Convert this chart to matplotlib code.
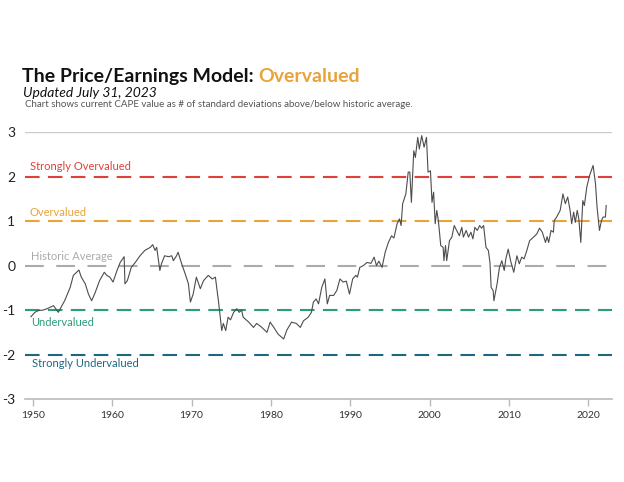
import matplotlib
matplotlib.use("Agg")
import matplotlib.pyplot as plt

# CAPE, standard deviations from historic average
years = [
    1949.75, 1950.25, 1950.7, 1951.3, 1951.9, 1952.6, 1953.2, 1954.0, 1954.7, 1955.1,
    1955.5, 1955.8, 1956.1, 1956.6, 1957.0, 1957.4, 1957.8, 1958.4, 1959.0, 1959.3,
    1959.7, 1960.1, 1960.6, 1961.0, 1961.5, 1961.6, 1961.9, 1962.4, 1962.9, 1963.5,
    1964.1, 1964.8, 1965.1, 1965.4, 1965.6, 1966.0, 1966.2, 1966.6, 1967.1, 1967.5,
    1967.7, 1968.1, 1968.3, 1968.75, 1969.2, 1969.6, 1969.85, 1970.2, 1970.6, 1971.1,
    1971.5, 1972.1, 1972.6, 1973.0, 1973.4, 1973.8, 1974.0, 1974.3, 1974.6, 1974.9,
    1975.3, 1975.7, 1976.0, 1976.3, 1976.5, 1977.2, 1977.8, 1978.2, 1978.8, 1979.5,
    1979.9, 1980.4, 1980.9, 1981.6, 1982.0, 1982.6, 1983.2, 1983.7, 1984.1, 1984.7,
    1985.1, 1985.35, 1985.7, 1986.0, 1986.4, 1986.8, 1987.1, 1987.4, 1987.9, 1988.3,
    1988.7, 1989.1, 1989.5, 1989.9, 1990.3, 1990.7, 1990.9, 1991.2, 1991.65, 1992.1,
    1992.6, 1993.0, 1993.3, 1993.6, 1994.0, 1994.4, 1994.8, 1995.2, 1995.5, 1995.9,
    1996.2, 1996.4, 1996.6, 1997.0, 1997.3, 1997.5, 1997.7, 1998.0, 1998.2, 1998.5,
    1998.7, 1999.0, 1999.3, 1999.6, 1999.8, 2000.1, 2000.3, 2000.5, 2000.7, 2000.9,
    2001.1, 2001.4, 2001.7, 2001.8, 2002.0, 2002.15, 2002.5, 2002.8, 2003.1, 2003.4,
    2003.75, 2004.05, 2004.25, 2004.6, 2004.9, 2005.2, 2005.45, 2005.7, 2006.0, 2006.3,
    2006.55, 2006.8, 2007.1, 2007.4, 2007.6, 2007.75, 2008.0, 2008.1, 2008.5, 2008.8,
    2009.1, 2009.4, 2009.6, 2009.9, 2010.2, 2010.6, 2011.0, 2011.3, 2011.6, 2011.9,
    2012.25, 2012.6, 2013.1, 2013.5, 2013.85, 2014.2, 2014.6, 2014.8, 2015.0, 2015.3,
    2015.6, 2015.7, 2016.0, 2016.45, 2016.8, 2017.1, 2017.4, 2017.7, 2017.9, 2018.15,
    2018.35, 2018.6, 2018.8, 2019.05, 2019.3, 2019.5, 2019.8, 2020.15, 2020.6, 2020.9,
    2021.1, 2021.4, 2021.65, 2021.85, 2022.15, 2022.25,
]
cape_sd = [
    -1.15, -1.05, -1.01, -1.00, -0.96, -0.90, -1.05, -0.79, -0.49, -0.22,
    -0.15, -0.10, -0.26, -0.41, -0.64, -0.79, -0.63, -0.34, -0.15, -0.22,
    -0.26, -0.37, -0.11, 0.07, 0.20, -0.41, -0.34, -0.04, 0.07, 0.22,
    0.34, 0.41, 0.47, 0.34, 0.41, -0.11, 0.04, 0.22, 0.20, 0.22,
    0.11, 0.22, 0.30, 0.04, -0.19, -0.41, -0.82, -0.64, -0.26, -0.52,
    -0.34, -0.22, -0.30, -0.26, -0.82, -1.46, -1.30, -1.46, -1.16, -1.22,
    -1.05, -0.97, -1.05, -1.00, -1.16, -1.27, -1.39, -1.30, -1.38, -1.50,
    -1.27, -1.40, -1.54, -1.65, -1.45, -1.27, -1.30, -1.39, -1.24, -1.16,
    -1.05, -0.82, -0.75, -0.86, -0.49, -0.30, -0.86, -0.67, -0.67, -0.56,
    -0.30, -0.37, -0.35, -0.64, -0.30, -0.22, -0.26, -0.04, 0.00, 0.07,
    0.05, 0.19, 0.00, 0.10, -0.04, 0.30, 0.52, 0.67, 0.62, 0.94,
    1.05, 0.90, 1.39, 1.61, 2.10, 2.10, 1.42, 2.58, 2.43, 2.88,
    2.62, 2.92, 2.66, 2.88, 2.10, 2.13, 1.42, 1.65, 0.94, 1.24,
    1.01, 0.45, 0.41, 0.11, 0.45, 0.11, 0.56, 0.64, 0.90, 0.79,
    0.67, 0.86, 0.64, 0.79, 0.64, 0.75, 0.60, 0.86, 0.79, 0.90,
    0.84, 0.90, 0.41, 0.34, 0.07, -0.49, -0.56, -0.79, -0.41, -0.04,
    0.11, -0.11, 0.15, 0.37, 0.11, -0.15, 0.22, 0.04, 0.19, 0.15,
    0.34, 0.56, 0.64, 0.71, 0.84, 0.75, 0.52, 0.65, 0.52, 0.79,
    0.75, 1.01, 1.09, 1.24, 1.61, 1.39, 1.54, 1.24, 0.94, 1.20,
    0.97, 1.24, 1.05, 0.52, 1.46, 1.35, 1.76, 2.02, 2.25, 1.84,
    1.31, 0.79, 1.01, 1.09, 1.09, 1.35,
]

bands = [2, 1, 0, -1, -2]
band_labels = ["Strongly Overvalued", "Overvalued", "Historic Average",
               "Undervalued", "Strongly Undervalued"]
band_colors = ["#E0403A", "#E8A33A", "#ABABAB", "#2A9D7C", "#1F6680"]
band_text_y = [2.22, 1.2, 0.2, -1.27, -2.2]
band_text_x = [1949.6, 1949.6, 1949.7, 1949.8, 1949.9]

FONT = "Lato"
plt.rcParams["font.family"] = [FONT, "DejaVu Sans"]

fig = plt.figure(figsize=(6.24, 4.82), dpi=100)
ax = fig.add_axes([0.040, 0.172, 0.941, 0.554])

for val, lab, col, ty, tx in zip(bands, band_labels, band_colors, band_text_y, band_text_x):
    dash = (7, 4) if val != 0 else (9, 6)
    ax.axhline(val, color=col, lw=1.5, dashes=dash, zorder=1)
    ax.text(tx, ty, lab, color=col, fontsize=8, va="center", ha="left")

ax.axhline(3, color="#CCCCCC", lw=1.0, zorder=0)
ax.plot(years, cape_sd, color="#4D4D4D", lw=0.8, zorder=3)

ax.set_xlim(1949.0, 2023.0)
ax.set_ylim(-3, 3)
ax.set_yticks([-3, -2, -1, 0, 1, 2, 3])
ax.set_yticklabels(["-3", "-2", "-1", "0", "1", "2", "3"])
ax.set_xticks(range(1950, 2030, 10))

for s in ["top", "right", "left"]:
    ax.spines[s].set_visible(False)
ax.spines["bottom"].set_color("#BBBBBB")
ax.spines["bottom"].set_linewidth(1.2)
ax.tick_params(axis="x", colors="#BBBBBB", labelcolor="#333333", labelsize=7.5,
               length=5, width=1)
ax.tick_params(axis="y", length=0, labelsize=10, labelcolor="#222222", pad=7)

# Title block
t = fig.text(0.035, 0.842, "The Price/Earnings Model: ", fontsize=14,
             fontweight="bold", color="#111111", ha="left", va="center")
fig.canvas.draw()
bb = t.get_window_extent()
fig.text(bb.x1 / fig.bbox.width, 0.842, "Overvalued", fontsize=14,
         fontweight="bold", color="#E8A33A", ha="left", va="center")
fig.text(0.037, 0.808, "Updated July 31, 2023", fontsize=10, style="italic",
         color="#111111", ha="left", va="center")
fig.text(0.040, 0.784,
         "Chart shows current CAPE value as # of standard deviations above/below historic average.",
         fontsize=7, color="#555555", ha="left", va="center")

fig.savefig("out.png", dpi=100)
